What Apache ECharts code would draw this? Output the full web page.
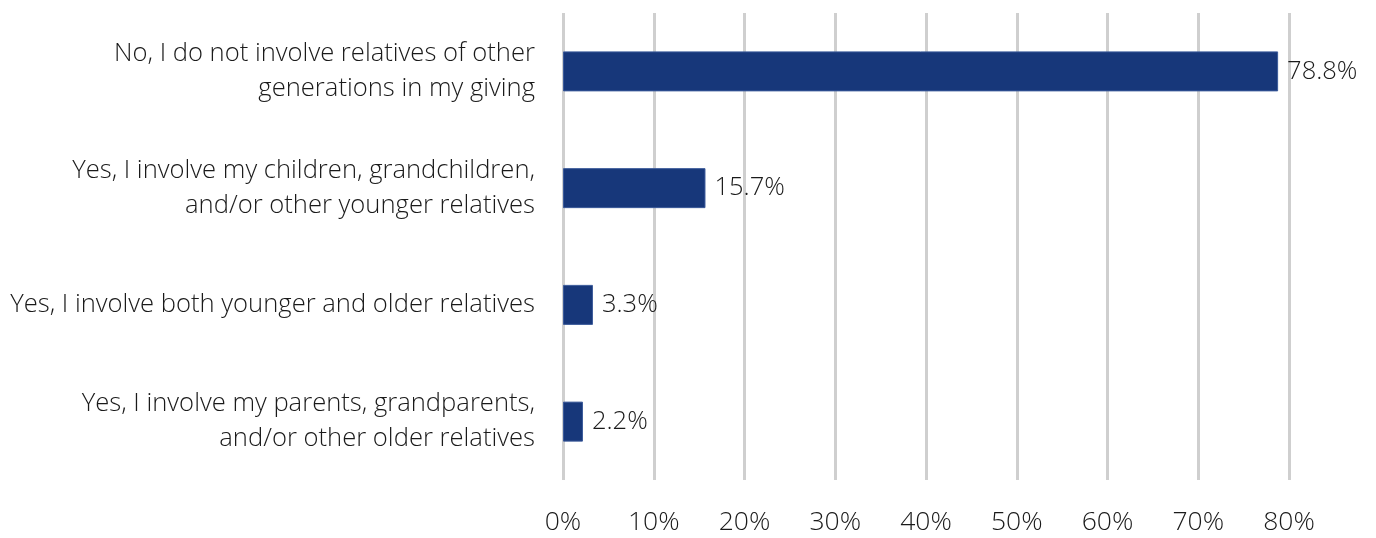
<!DOCTYPE html>
<html><head><meta charset="utf-8">
<script src="https://cdn.jsdelivr.net/npm/echarts@6/dist/echarts.min.js"></script>
<style>html,body{margin:0;padding:0;background:#fff}#c{width:1376px;height:538px}</style>
</head><body><div id="c"></div>
<script>
const categories = [
  "No, I do not involve relatives of other\ngenerations in my giving",
  "Yes, I involve my children, grandchildren,\nand/or other younger relatives",
  "Yes, I involve both younger and older relatives",
  "Yes, I involve my parents, grandparents,\nand/or other older relatives"
];
const values = [78.8, 15.7, 3.3, 2.2];
const tickMax = 80;
const tickStep = 10;

const FONT = "'Open Sans', 'Noto Sans', sans-serif";
const chart = echarts.init(document.getElementById('c'), null, {renderer: 'canvas'});
chart.setOption({
  animation: false,
  backgroundColor: '#fff',
  grid: {left: 563, right: 87, top: 13, bottom: 58, containLabel: false},
  xAxis: {
    type: 'value', min: 0, max: tickMax, interval: tickStep,
    axisLine: {show: false}, axisTick: {show: false},
    splitLine: {show: true, lineStyle: {color: '#cfcfcf', width: 3}},
    axisLabel: {formatter: '{value}%', color: '#1a1a1a', fontSize: 26.5, fontFamily: FONT, fontWeight: 300, margin: 29}
  },
  yAxis: {
    type: 'category', data: categories, inverse: true,
    axisLine: {show: false}, axisTick: {show: false},
    axisLabel: {color: '#1a1a1a', fontSize: 25.6, fontFamily: FONT, fontWeight: 300, margin: 28, lineHeight: 35, align: 'right'}
  },
  series: [{
    type: 'bar', data: values, barWidth: 40,
    itemStyle: {color: '#17377a', borderColor: '#3b5a9a', borderWidth: 1},
    label: {show: true, position: 'right', distance: 9, formatter: p => p.value.toFixed(1) + '%',
      color: '#1a1a1a', fontSize: 25.5, fontFamily: FONT, fontWeight: 300}
  }]
});
</script></body></html>
